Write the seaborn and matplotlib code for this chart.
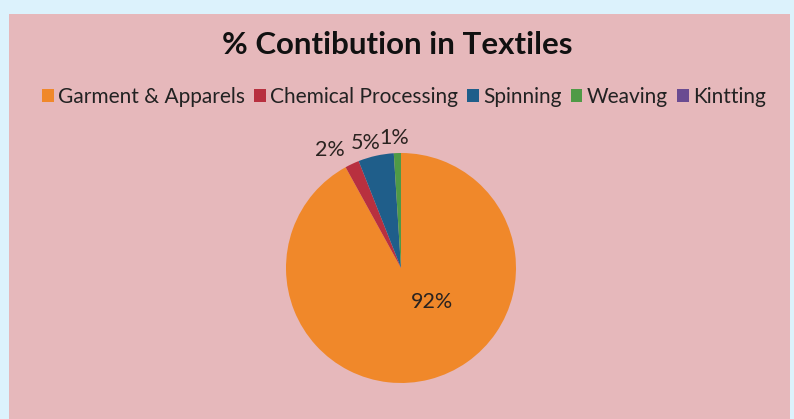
import matplotlib
matplotlib.use("Agg")
import matplotlib.pyplot as plt
import seaborn as sns
import numpy as np
from matplotlib.patches import Rectangle

categories = ["Garment & Apparels", "Chemical Processing", "Spinning", "Weaving", "Kintting"]
values = [92, 2, 5, 1, 0]
pct_labels = ["92%", "2%", "5%", "1%", ""]
colors = ["#F0882A", "#B8303F", "#1F5E8A", "#4F9A46", "#6A4B91"]
title = "% Contibution in Textiles"

sns.set_theme(style="white")
plt.rcParams['font.family'] = ['Lato', 'DejaVu Sans']
palette = sns.color_palette(colors)

W, H = 794, 419
fig = plt.figure(figsize=(W / 100, H / 100), dpi=100)
fig.patch.set_facecolor("#DCF2FC")
fig.patches.append(Rectangle((9 / W, 0), (790 - 9) / W, (419 - 14) / H,
                             transform=fig.transFigure, facecolor="#E6B8BB",
                             edgecolor="none", zorder=-5))

# pie axes: center (401, 268) px, radius ~115 px
half = 150
ax = fig.add_axes([(401 - half) / W, (H - 268 - half) / H, 2 * half / W, 2 * half / H])
ax.set_zorder(2)
ax.set_facecolor("none")
lim = half / 115
ax.axis("off")

wedges, _ = ax.pie(values, colors=palette, startangle=90, counterclock=False,
                   radius=1.0, wedgeprops=dict(linewidth=0))
ax.set_xlim(-lim, lim)
ax.set_ylim(-lim, lim)
ax.set_aspect("equal")

# label placement: distance from centre and angular nudge (deg)
dists = [0.4, 1.2, 1.13, 1.13, 0]
nudges = [0, 6, 3, 1, 0]
for w, lab, d, nd in zip(wedges, pct_labels, dists, nudges):
    if not lab:
        continue
    if lab == "92%":
        ang = np.deg2rad(-48)
    else:
        ang = np.deg2rad((w.theta1 + w.theta2) / 2 + nd)
    x, y = d * np.cos(ang), d * np.sin(ang)
    ax.text(x, y, lab, ha="center", va="center", fontsize=15.5, color="#2a2320")

fig.text(397 / W, 1 - 45 / H, title, ha="center", va="center",
         fontsize=22.5, fontweight="bold", color="#111111")

leg = fig.legend(wedges, categories, loc="center", bbox_to_anchor=(404 / W, 1 - 97 / H),
                 ncol=5, frameon=False, fontsize=15, handlelength=0.55, handleheight=0.55,
                 handletextpad=0.2, columnspacing=0.45, borderpad=0, labelcolor="#222222")

fig.savefig("out.png", dpi=100, facecolor=fig.get_facecolor())
